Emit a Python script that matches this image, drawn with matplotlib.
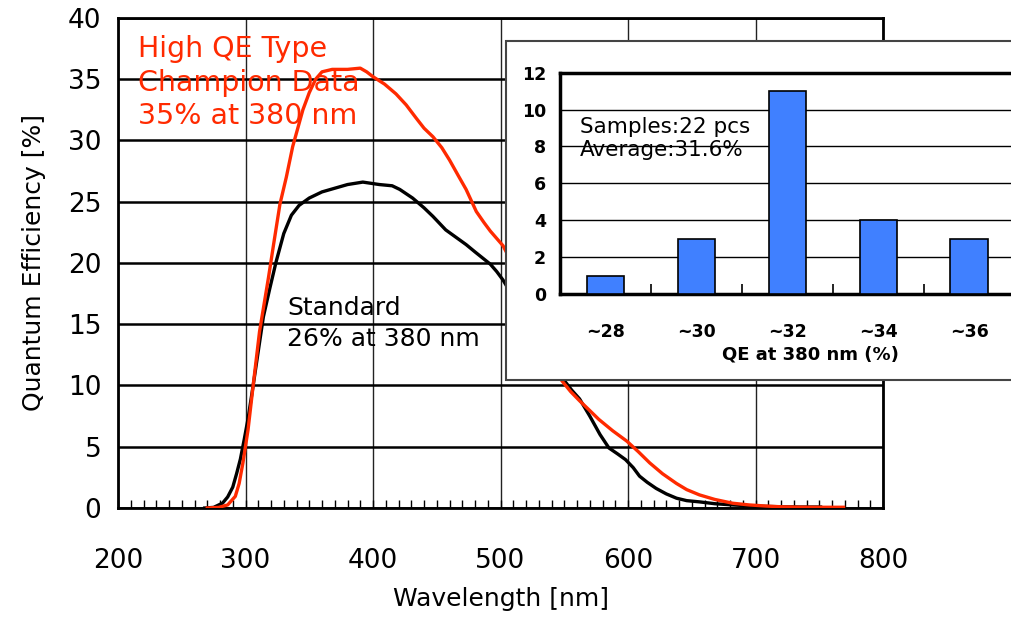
import matplotlib
matplotlib.use("Agg")
import matplotlib.pyplot as plt
from matplotlib.patches import Rectangle
from matplotlib.ticker import MultipleLocator


# courbe "Standard" (noir)
std_wl = [268, 275, 282, 286, 290, 293, 296, 299, 302, 306, 310, 314, 319, 324,
          330, 336, 342, 350, 360, 370, 380, 392, 405, 415, 421, 431, 440, 447,
          457, 465, 473, 480, 486, 492, 497, 502, 510, 520, 530, 540, 550, 556,
          562, 570, 578, 585, 592, 598, 604, 609, 615, 622, 630, 638, 646, 656,
          668, 682, 700, 720, 735, 751]
std_qe = [0, 0.05, 0.4, 0.9, 1.7, 2.8, 4.0, 5.6, 7.3, 10.0, 12.8, 15.6, 17.9, 20.1,
          22.4, 23.9, 24.7, 25.3, 25.8, 26.1, 26.4, 26.6, 26.4, 26.3, 26.0, 25.3,
          24.5, 23.8, 22.7, 22.1, 21.5, 20.9, 20.4, 19.9, 19.3, 18.6, 17.2, 15.6,
          13.8, 12.2, 10.4, 9.6, 8.9, 7.5, 6.0, 4.9, 4.4, 3.95, 3.3, 2.6, 2.1, 1.6,
          1.15, 0.8, 0.6, 0.5, 0.35, 0.25, 0.15, 0.1, 0.08, 0.08]

# courbe "High QE Type" (rouge)
hqe_wl = [270, 279, 286, 292, 295, 298, 302, 306, 311, 318, 322, 327, 332, 337,
          345, 350, 355, 360, 368, 380, 390, 395, 400, 409, 418, 426, 434, 440,
          447, 454, 460, 467, 473, 477, 481, 487, 492, 497, 502, 510, 520, 530,
          540, 548, 555, 562, 570, 577, 588, 599, 608, 617, 627, 638, 646, 656,
          668, 682, 695, 708, 720, 734, 745, 755, 762, 769]
hqe_qe = [0, 0.05, 0.25, 0.95, 2.0, 3.7, 6.4, 10.0, 14.4, 18.8, 21.5, 24.8, 27.0,
          29.5, 32.5, 33.9, 35.0, 35.6, 35.8, 35.8, 35.9, 35.6, 35.2, 34.6, 33.8,
          32.9, 31.8, 31.0, 30.3, 29.4, 28.4, 27.1, 26.0, 25.1, 24.2, 23.3, 22.6,
          22.0, 21.4, 19.8, 17.6, 15.2, 12.8, 10.4, 9.5, 8.75, 7.95, 7.24, 6.3,
          5.46, 4.6, 3.68, 2.8, 2.0, 1.5, 1.07, 0.7, 0.39, 0.25, 0.16, 0.1, 0.07,
          0.06, 0.06, 0.06, 0.06]

# histogramme en encart
hist_labels = ["~28", "~30", "~32", "~34", "~36"]
hist_counts = [1, 3, 11, 4, 3]

RED = "#ff2a00"
BLUE = "#4080ff"

plt.rcParams["font.family"] = ["DejaVu Sans"]

fig = plt.figure(figsize=(10.12, 6.18), dpi=100)

# --- graphique principal ---
ax = fig.add_axes([0.1166, 0.178, 0.756, 0.793])
ax.set_zorder(0)

ax.plot(std_wl, std_qe, color="black", linewidth=2.4, zorder=3)
ax.plot(hqe_wl, hqe_qe, color=RED, linewidth=2.4, zorder=3)

ax.set_xlim(200, 800)
ax.set_ylim(0, 40)
ax.xaxis.set_major_locator(MultipleLocator(100))
ax.xaxis.set_minor_locator(MultipleLocator(10))
ax.yaxis.set_major_locator(MultipleLocator(5))

ax.grid(True, axis="y", color="black", linewidth=1.8)
ax.grid(True, axis="x", color="#222222", linewidth=1.0)

ax.tick_params(axis="x", which="both", direction="in", length=6, width=1,
               labelsize=19, pad=29)
ax.tick_params(axis="y", length=0, labelsize=19, pad=12)
for spine in ax.spines.values():
    spine.set_linewidth(2)

ax.set_xlabel("Wavelength [nm]", fontsize=18, labelpad=9)
ax.set_ylabel("Quantum Efficiency [%]", fontsize=18, labelpad=16)

ax.text(0.026, 0.966, "High QE Type\nChampion Data\n35% at 380 nm",
        transform=ax.transAxes, color=RED, fontsize=20.5, va="top", ha="left",
        linespacing=1.27, zorder=4)
ax.text(0.221, 0.433, "Standard\n26% at 380 nm",
        transform=ax.transAxes, color="black", fontsize=18, va="top", ha="left",
        linespacing=1.37, zorder=4)

# --- cadre blanc de l'encart ---
box = Rectangle((0.5, 0.385), 0.6, 0.549, transform=fig.transFigure,
                facecolor="white", edgecolor="#444444", linewidth=1.5, zorder=1)
fig.add_artist(box)

# --- encart histogramme ---
ins = fig.add_axes([0.5534, 0.5243, 0.494, 0.358])
ins.set_zorder(2)

pos = list(range(len(hist_counts)))
ins.bar(pos, hist_counts, width=0.41, color=BLUE, edgecolor="black",
        linewidth=1.2, zorder=3)

ins.set_xlim(-0.5, 5.0)
ins.set_ylim(0, 12)
ins.set_xticks(pos)
ins.set_xticklabels(hist_labels)
ins.set_xticks([p + 0.5 for p in pos], minor=True)
ins.yaxis.set_major_locator(MultipleLocator(2))
ins.grid(True, axis="y", color="black", linewidth=1.0)
ins.set_axisbelow(True)

ins.tick_params(axis="x", which="major", length=0, labelsize=12.5, pad=21)
ins.tick_params(axis="x", which="minor", direction="in", length=7, width=1.2)
ins.tick_params(axis="y", length=0, labelsize=12.5, pad=10)
for lbl in ins.get_xticklabels() + ins.get_yticklabels():
    lbl.set_fontweight("bold")
for spine in ins.spines.values():
    spine.set_linewidth(2.5)

ins.set_xlabel("QE at 380 nm (%)", fontsize=13, fontweight="bold", labelpad=3)
ins.text(-0.28, 8.45, "Samples:22 pcs\nAverage:31.6%", fontsize=15.5,
         va="center", ha="left", linespacing=1.2)

fig.savefig("out.png", dpi=100)
